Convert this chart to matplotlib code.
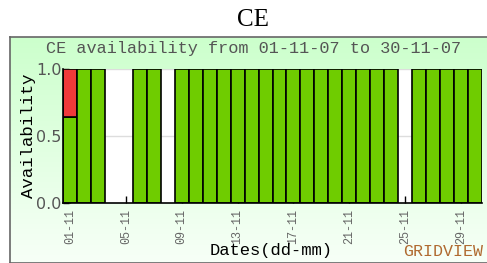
import numpy as np
import matplotlib.pyplot as plt
from matplotlib.ticker import MultipleLocator

# donnees
jours = list(range(1, 31))
dispo = [0.64, 1, 1, 0, 0, 1, 1, 0] + [1] * 16 + [0, 1, 1, 1, 1, 1]
indispo = [0.36] + [0] * 29
present = [1, 1, 1, 0, 0, 1, 1, 0] + [1] * 16 + [0, 1, 1, 1, 1, 1]
tick_jours = [1, 5, 9, 13, 17, 21, 25, 29]
tick_labels = ["01-11", "05-11", "09-11", "13-11", "17-11", "21-11", "25-11", "29-11"]

mono = "Liberation Mono"

fig = plt.figure(figsize=(4.87, 2.63), dpi=100)
fig.patch.set_facecolor("white")

# panneau avec degrade vert
bg = fig.add_axes([10 / 487, 0, 478 / 487, 226 / 263])
grad = np.linspace(0, 1, 100).reshape(-1, 1)
top = np.array([0.80, 1.0, 0.80])
bot = np.array([0.97, 1.0, 0.97])
img = top + (bot - top) * grad[:, :, None]
bg.imshow(img, aspect="auto", extent=[0, 1, 0, 1])
bg.set_xticks([])
bg.set_yticks([])
for s in bg.spines.values():
    s.set_color("#666666")
    s.set_linewidth(1.2)

fig.text(253 / 487, 1 - 20 / 263, "CE", ha="center", va="center", family="Liberation Serif", fontsize=18)
fig.text(254 / 487, 1 - 49 / 263, "CE availability from 01-11-07 to 30-11-07", ha="center", va="center",
         family=mono, fontsize=12.2, color="#555555")

ax = fig.add_axes([63 / 487, 60 / 263, 419 / 487, 134 / 263])
ax.patch.set_alpha(0)
for j, d, r, p in zip(jours, dispo, indispo, present):
    if not p:
        ax.bar(j, 1, width=1, color="white", edgecolor="none", zorder=1)
        continue
    ax.bar(j, d, width=1, color="#6fcc00", edgecolor="black", linewidth=1.2, zorder=2)
    if r > 0:
        ax.bar(j, r, bottom=d, width=1, color="#f03a3a", edgecolor="black", linewidth=1.2, zorder=2)

for yv in [0.5, 1.0]:
    ax.axhline(yv, color="#dddddd", linewidth=1, zorder=1.5)

ax.set_xlim(0.5, 30.5)
ax.set_ylim(0, 1.0)
ax.set_xticks(tick_jours)
ax.set_xticklabels(tick_labels, rotation=90, family=mono, fontsize=8.5, color="#666666")
ax.set_yticks([0, 0.5, 1.0])
ax.set_yticklabels(["0.0", "0.5", "1.0"], fontsize=11.5, color="#555555")
ax.yaxis.set_minor_locator(MultipleLocator(0.1))
ax.tick_params(axis="y", which="minor", direction="in", length=4, width=1)
ax.tick_params(axis="y", which="major", direction="in", length=4, width=1, pad=1)
ax.tick_params(axis="x", direction="in", length=5, width=1, pad=4)
ax.spines["top"].set_visible(False)
ax.spines["right"].set_visible(False)
ax.spines["left"].set_linewidth(1.2)
ax.spines["bottom"].set_linewidth(1.2)
ax.set_ylabel("Availability", family=mono, fontsize=12.5, labelpad=0)

fig.text(271 / 487, 1 - 251 / 263, "Dates(dd-mm)", ha="center", va="center",
         family=mono, fontsize=12.3)
fig.text(443 / 487, 1 - 251 / 263, "GRIDVIEW", ha="center", va="center",
         family=mono, fontsize=12, color="#b06a30")

fig.savefig("out.png", dpi=100)
